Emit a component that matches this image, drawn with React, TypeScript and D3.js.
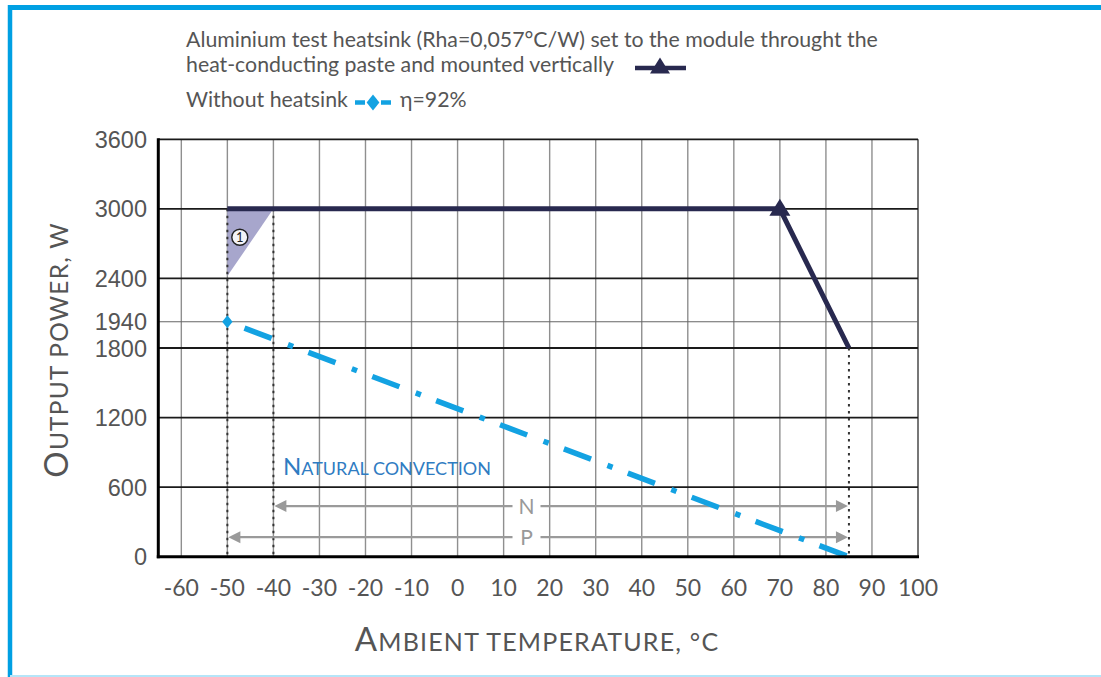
import React from "react";
import * as d3 from "d3";

const tempTicks = [-60, -50, -40, -30, -20, -10, 0, 10, 20, 30, 40, 50, 60, 70, 80, 90, 100];
const powerTicks = [0, 600, 1200, 1800, 2400, 3000, 3600];
const extraPowerTicks = [1940];

const heatsinkTemps = [-50, 70, 85];
const heatsinkPower = [3000, 3000, 1800];
const heatsinkMarkerTemp = [70];
const heatsinkMarkerPower = [3000];

const noHeatsinkTemps = [-50, 85];
const noHeatsinkPower = [1940, 0];

const zoneTemps = [-50, -40, -50];
const zonePower = [3000, 3000, 2420];
const zoneLabelTemp = -47.3;
const zoneLabelPower = 2755;

const dottedTemps = [-50, -40, 85];
const dottedTops = [3000, 3000, 1800];

const rangeNames = ["N", "P"];
const rangeFrom = [-40, -50];
const rangeTo = [85, 85];
const rangeLevel = [437, 168];

const W = 1101;
const H = 677;
const X0 = 158.3, X1 = 918;
const Y0 = 556.7, Y1 = 139.3;

const GREY_TEXT = "#555";
const NAVY = "#28294f";
const BLUE = "#13a2e2";
const FONT = "Lato, 'Open Sans', sans-serif";

export default function App() {
  const x = d3.scaleLinear().domain([-65, 100]).range([X0, X1]);
  // the reference axis is not uniform: the 1940 gridline sits higher than a linear scale would put it
  const k = (Y0 - Y1) / 3600;
  const y = d3
    .scaleLinear()
    .domain([0, 1800, 1940, 2400, 3600])
    .range([Y0, Y0 - 1800 * k, 321.7, Y0 - 2400 * k, Y1]);

  const line = d3.line<[number, number]>().x((d) => x(d[0])).y((d) => y(d[1]));
  const heatsinkPts = heatsinkTemps.map((t, i) => [t, heatsinkPower[i]] as [number, number]);
  const noHsPts = noHeatsinkTemps.map((t, i) => [t, noHeatsinkPower[i]] as [number, number]);
  const zonePts = zoneTemps.map((t, i) => [t, zonePower[i]] as [number, number]);

  const triangle = (cx: number, cy: number, w: number, h: number) =>
    `M${cx},${cy - h * 0.6}L${cx + w / 2},${cy + h * 0.4}L${cx - w / 2},${cy + h * 0.4}Z`;
  const diamond = (cx: number, cy: number, r: number) =>
    `M${cx},${cy - r}L${cx + r * 0.8},${cy}L${cx},${cy + r}L${cx - r * 0.8},${cy}Z`;

  return (
    <svg
      width={W}
      height={H}
      style={{ position: "absolute", left: 0, top: 0, background: "#fff", display: "block" }}
    >
      {/* frame */}
      <rect x={0} y={0} width={W} height={H} fill="#fff" />
      <line x1={10} y1={7.5} x2={W} y2={7.5} stroke="#00a0e3" strokeWidth={5} />
      <line x1={10} y1={5} x2={10} y2={H} stroke="#00a0e3" strokeWidth={4.5} />
      <line x1={10} y1={676} x2={W} y2={676} stroke="#b5e5f8" strokeWidth={2} />

      {/* legend */}
      <g fontFamily={FONT} fontSize={21.3} fill={GREY_TEXT}>
        <text x={186} y={47}>Aluminium test heatsink (Rha=0,057°C/W) set to the module throught the</text>
        <text x={186} y={72}>heat-conducting paste and mounted vertically</text>
        <line x1={635} y1={68} x2={686} y2={68} stroke={NAVY} strokeWidth={4.5} />
        <path d={triangle(660, 67, 20, 16)} fill={NAVY} />
        <text x={186} y={107}>Without heatsink</text>
        <line x1={355} y1={102.5} x2={391} y2={102.5} stroke={BLUE} strokeWidth={4.5} strokeDasharray="10 16 10" />
        <path d={diamond(373, 102.5, 8)} fill={BLUE} />
        <text x={400} y={107}>η=92%</text>
      </g>

      {/* vertical grid */}
      {tempTicks.filter((t) => t < 100).map((t) => (
        <line key={"vg" + t} x1={x(t)} x2={x(t)} y1={Y1} y2={Y0} stroke="#8f8f8f" strokeWidth={1.4} />
      ))}
      <line x1={x(100)} x2={x(100)} y1={Y1} y2={Y0} stroke="#555" strokeWidth={1.6} />

      {/* horizontal grid */}
      {powerTicks.filter((p) => p > 0).map((p) => (
        <line key={"hg" + p} x1={X0} x2={X1} y1={y(p)} y2={y(p)} stroke="#1a1a1a" strokeWidth={1.8} />
      ))}
      {extraPowerTicks.map((p) => (
        <line key={"hx" + p} x1={X0} x2={X1} y1={y(p)} y2={y(p)} stroke="#666" strokeWidth={1.1} />
      ))}

      {/* shaded zone */}
      <path d={line(zonePts) + "Z"} fill="#a7a6cc" />

      {/* dotted verticals */}
      {dottedTemps.map((t, i) => (
        <line
          key={"dv" + t}
          x1={x(t)}
          x2={x(t)}
          y1={y(dottedTops[i])}
          y2={Y0}
          stroke="#333"
          strokeWidth={2}
          strokeDasharray="2.5 4.5"
        />
      ))}

      {/* range arrows */}
      {rangeNames.map((n, i) => {
        const yy = y(rangeLevel[i]);
        const xa = x(rangeFrom[i]) + 1;
        const xb = x(rangeTo[i]) - 1;
        const xm = 526.5;
        return (
          <g key={"r" + n}>
            <line x1={xa + 10} x2={xm - 14} y1={yy} y2={yy} stroke="#9a9a9a" strokeWidth={2.2} />
            <line x1={xm + 14} x2={xb - 10} y1={yy} y2={yy} stroke="#9a9a9a" strokeWidth={2.2} />
            <path d={`M${xa},${yy}L${xa + 12},${yy - 6}L${xa + 12},${yy + 6}Z`} fill="#9a9a9a" />
            <path d={`M${xb},${yy}L${xb - 12},${yy - 6}L${xb - 12},${yy + 6}Z`} fill="#9a9a9a" />
            <text x={xm} y={yy + 7.5} textAnchor="middle" fontFamily={FONT} fontSize={21} fill="#999">
              {n}
            </text>
          </g>
        );
      })}

      {/* without heatsink line */}
      <path
        d={line(noHsPts) || ""}
        fill="none"
        stroke={BLUE}
        strokeWidth={5.5}
        strokeDasharray="29 17.5 5.5 16.3"
        strokeDashoffset={50}
      />
      <path d={diamond(x(noHeatsinkTemps[0]), y(noHeatsinkPower[0]), 6.5)} fill={BLUE} />

      {/* heatsink line */}
      <path d={line(heatsinkPts) || ""} fill="none" stroke={NAVY} strokeWidth={5} strokeLinejoin="miter" />
      {heatsinkMarkerTemp.map((t, i) => (
        <path key={"m" + t} d={triangle(x(t), y(heatsinkMarkerPower[i]), 21, 17)} fill={NAVY} />
      ))}

      {/* zone label */}
      <circle cx={x(zoneLabelTemp)} cy={y(zoneLabelPower)} r={8} fill="#f4f4f8" stroke="#222" strokeWidth={1.4} />
      <text
        x={x(zoneLabelTemp)}
        y={y(zoneLabelPower) + 4.5}
        textAnchor="middle"
        fontFamily={FONT}
        fontSize={13}
        fill="#222"
      >
        1
      </text>

      {/* axes */}
      <line x1={X0} x2={X0} y1={Y1 - 1} y2={Y0 + 1.5} stroke="#000" strokeWidth={3} />
      <line x1={X0 - 1.5} x2={X1 + 1} y1={Y0} y2={Y0} stroke="#000" strokeWidth={3} />

      {/* y tick labels */}
      {powerTicks.concat(extraPowerTicks).map((p) => (
        <text
          key={"yt" + p}
          x={147}
          y={y(p) + 8.5}
          textAnchor="end"
          fontFamily="'Liberation Sans', Arial, sans-serif"
          fontSize={23.5}
          fill={GREY_TEXT}
        >
          {p}
        </text>
      ))}

      {/* x tick labels */}
      {tempTicks.map((t) => (
        <text
          key={"xt" + t}
          x={x(t)}
          y={595.5}
          textAnchor="middle"
          fontFamily={FONT}
          fontSize={23}
          fill={GREY_TEXT}
        >
          {t}
        </text>
      ))}

      {/* natural convection label */}
      <text x={283} y={475} fontFamily={FONT} fill="#2f7cc2" fontSize={18}>
        <tspan fontSize={24}>N</tspan>ATURAL CONVECTION
      </text>

      {/* axis titles */}
      <text x={537} y={651} textAnchor="middle" fontFamily={FONT} fill={GREY_TEXT} fontSize={25} letterSpacing={1.2}>
        <tspan fontSize={33}>A</tspan>MBIENT TEMPERATURE, °C
      </text>
      <text
        transform="translate(68,350) rotate(-90)"
        textAnchor="middle"
        fontFamily={FONT}
        fill={GREY_TEXT}
        fontSize={24.5}
        letterSpacing={1.2}
      >
        <tspan fontSize={33}>O</tspan>UTPUT POWER, W
      </text>
    </svg>
  );
}
